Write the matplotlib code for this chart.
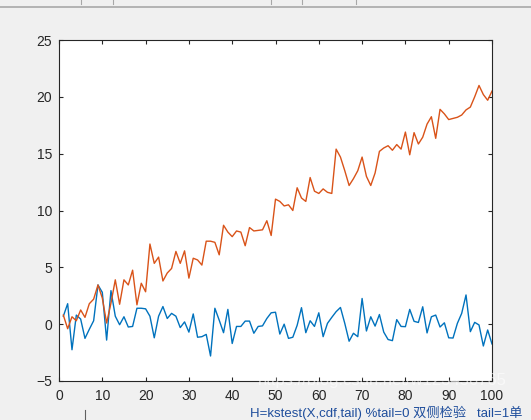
import matplotlib.pyplot as plt
import numpy as np

# ---------------------------------------------------------
# data
# ---------------------------------------------------------

n = list(range(1, 101))

blue = [
    0.7, 1.8, -2.25, 0.8, 0.45, -1.25, -0.45, 0.3, 3.45, 2.8,
    -1.4, 2.95, 0.7, -0.05, 0.65, -0.25, -0.2, 1.4, 1.4, 1.35,
    0.7, -1.2, 0.7, 1.55, 0.5, 0.95, 0.7, -0.3, 0.2, -0.7,
    0.9, -1.15, -1.1, -0.9, -2.8, 1.4, 0.35, -0.75, 1.3, -1.7,
    -0.2, -0.2, 0.27, 0.27, -0.8, -0.2, -0.15, 0.5, 1.0, 1.05,
    -0.87, 0.0, -1.25, -1.15, -0.1, 1.45, -0.75, 0.3, -0.2, 1.0,
    -1.1, 0.07, 0.6, 1.1, 1.47, 0.07, -1.5, -0.8, -1.1, 2.26,
    -0.6, 0.65, -0.17, 0.85, -0.7, -1.35, -1.45, 0.4, -0.2, -0.22,
    1.3, 0.25, 0.15, 1.53, -0.77, 0.65, 0.8, -0.25, 0.12, -1.2,
    -1.22, 0.07, 0.95, 2.57, -0.66, 0.16, -0.07, -1.92, -0.51, -1.74,
]

orange = [
    0.8, -0.4, 0.65, 0.3, 1.25, 0.6, 1.8, 2.2, 3.45, 2.3,
    0.1, 1.85, 3.9, 1.75, 3.9, 3.45, 4.75, 1.7, 3.6, 2.85,
    7.05, 5.35, 5.9, 3.8, 4.5, 4.9, 6.4, 5.35, 6.45, 4.05,
    5.8, 5.65, 5.2, 7.3, 7.3, 7.2, 6.1, 8.7, 8.1, 7.7,
    8.2, 8.1, 6.9, 8.5, 8.2, 8.25, 8.3, 9.1, 7.8, 11.0,
    10.8, 10.4, 10.5, 10.0, 12.0, 11.1, 10.8, 12.9, 11.7, 11.5,
    11.9, 11.6, 11.5, 15.4, 14.7, 13.5, 12.2, 12.8, 13.5, 14.7,
    13.0, 12.2, 13.3, 15.2, 15.5, 15.7, 15.3, 15.8, 15.4, 16.9,
    14.9, 16.85, 15.85, 16.45, 17.6, 18.25, 16.35, 18.9, 18.5, 18.0,
    18.1, 18.2, 18.4, 18.85, 19.1, 20.0, 21.0, 20.2, 19.7, 20.5,
]

x_ticks = list(range(0, 101, 10))
y_ticks = list(range(-5, 26, 5))

# ---------------------------------------------------------
# figure
# ---------------------------------------------------------

plt.rcParams['font.family'] = ['Liberation Sans', 'Noto Sans CJK SC', 'DejaVu Sans']

fig = plt.figure(figsize=(5.31, 4.2), dpi=100)
fig.patch.set_facecolor('#f0f0f0')

# toolbar strip at the very top of the screenshot
fig.add_artist(plt.Line2D([0, 1], [1 - 6.5 / 420] * 2, color='#a8a8a8', lw=1.2))
for px in [81, 113, 271, 302, 356]:
    fig.add_artist(plt.Line2D([px / 531] * 2, [1, 1 - 4 / 420], color='#a8a8a8', lw=0.8))

ax = fig.add_axes([59 / 531, 39 / 420, 433 / 531, 341 / 420])

ax.plot(n, blue, color='#0072bd', lw=1.0)
ax.plot(n, orange, color='#d95319', lw=1.0)

ax.set_xlim(0, 100)
ax.set_ylim(-5, 25)
ax.set_xticks(x_ticks)
ax.set_yticks(y_ticks)

axis_color = '#262626'
for s in ax.spines.values():
    s.set_color(axis_color)
    s.set_linewidth(0.8)

ax.tick_params(direction='in', length=3.2, width=0.8, color=axis_color,
               labelcolor=axis_color, labelsize=10, top=True, right=True)
ax.tick_params(axis='x', pad=6)
ax.tick_params(axis='y', pad=5)

# watermark of the screenshot
fig.text(258 / 531, 1 - 381 / 420, 'https://blog.csdn.net/w123456765',
         fontsize=12, color='white', alpha=0.6, ha='left', va='center')

# bits of the window below the figure
fig.add_artist(plt.Line2D([85 / 531, 85 / 531], [0, 10 / 420], color='#606060', lw=0.8))
fig.text(250 / 531, 1 - 413 / 420, 'H=kstest(X,cdf,tail) %tail=0 双侧检验   tail=1单',
         fontsize=9.5, color='#1f4e9c', ha='left', va='center')

fig.savefig('out.png', dpi=100, facecolor=fig.get_facecolor())
